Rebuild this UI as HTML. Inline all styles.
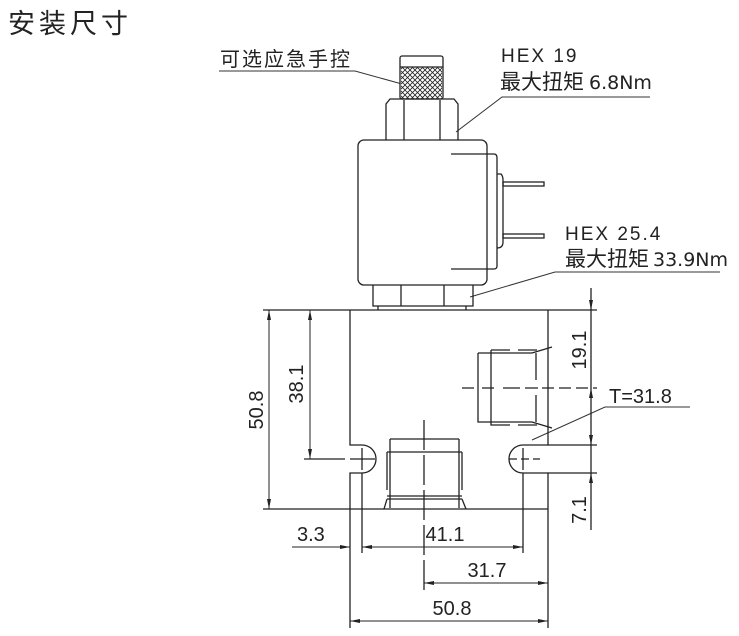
<!DOCTYPE html>
<html><head><meta charset="utf-8"><style>
html,body{margin:0;padding:0;background:#fff;width:739px;height:636px;overflow:hidden}
svg{display:block}
text{font-family:"Liberation Sans","Noto Sans CJK SC",sans-serif;fill:#222}
</style></head><body>
<svg width="739" height="636" viewBox="0 0 739 636" xmlns="http://www.w3.org/2000/svg">
<defs>
<marker id="a" viewBox="0 0 10 4" refX="10" refY="2" markerWidth="10" markerHeight="4" orient="auto-start-reverse" markerUnits="userSpaceOnUse"><path d="M0,0 L10,2 L0,4z" fill="#222"/></marker>
<pattern id="h" width="5" height="5" patternUnits="userSpaceOnUse"><path d="M0,0L5,5M5,0L0,5" stroke="#222" stroke-width="0.8"/></pattern>
</defs>
<text x="8" y="33" font-size="27" font-family="Noto Sans CJK SC,sans-serif" letter-spacing="4">安装尺寸</text>
<text x="220" y="66" font-size="20" font-family="Noto Sans CJK SC,sans-serif" letter-spacing="2">可选应急手控</text>
<text x="501" y="62" font-size="19" font-family="DejaVu Sans,sans-serif" letter-spacing="2">HEX  19</text>
<text x="500" y="89" font-family="Noto Sans CJK SC,sans-serif"><tspan font-size="21">最大扭矩</tspan><tspan font-size="19" font-family="DejaVu Sans,sans-serif" dx="5">6.8Nm</tspan></text>
<text x="565" y="240" font-size="19" font-family="DejaVu Sans,sans-serif" letter-spacing="2">HEX  25.4</text>
<text x="565" y="266" font-family="Noto Sans CJK SC,sans-serif"><tspan font-size="21">最大扭矩</tspan><tspan font-size="19" font-family="DejaVu Sans,sans-serif" dx="4">33.9Nm</tspan></text>
<g stroke="#333" stroke-width="1" fill="none">
<path d="M219,71H355L402,84"/>
<path d="M650,97H502L456,132"/>
<path d="M720,272H555L470,297"/>
<path d="M690,407H605L532,440"/>
</g>
<g stroke="#222" stroke-width="1.3" fill="none">
<rect x="400" y="56" width="43" height="43" rx="2" fill="#fff"/>
<rect x="401" y="67" width="41" height="32" fill="url(#h)" stroke="none"/>
<line x1="400" y1="67" x2="443" y2="67"/>
<path d="M386,140V104L390,99H454L458,104V140"/>
<line x1="404" y1="100" x2="404" y2="140"/><line x1="440" y1="100" x2="440" y2="140"/>
<rect x="358" y="140" width="129" height="145" rx="6" fill="#fff"/>
<path d="M451,154H494Q497,154 497,158V266Q497,269 494,269H451"/>
<path d="M497,174H501Q503,176 503,180V242Q503,248 497,248"/>
<rect x="503" y="182" width="41" height="4"/><rect x="503" y="234" width="41" height="4"/>
<path d="M373,285V306H473V285"/>
<line x1="401" y1="285" x2="401" y2="306"/><line x1="444" y1="285" x2="444" y2="306"/>
<path d="M378,306V310M466,306V310"/>
<path d="M263,310H597"/>
<path d="M350,310V445H362A14,14 0 0 1 362,473H350V509"/>
<path d="M548,310V445H523A14,14 0 0 0 523,473H548V509"/>
<path d="M548,445H597M548,473H597"/>
<path d="M263,509H548"/>
<path d="M478,353H532M478,353V422H532M491,350H510M518,350H537M491,350V425H510M518,425H537"/>
<path d="M536,353V380M536,395V422M532,353L552,347M532,422L552,428"/>
<path d="M390,439H459M390,439V508M459,439V508M387,452V490M462,452V490M387,452H462M387,496H462M387,499H462M387,499L384,509M462,499L466,509"/>
<path d="M462,388H475M482,388H496M503,388H519M526,388H548M508,388H597" stroke-dasharray="12,5"/>
<path d="M304,459H345M350,459H375" />
<path d="M509,459H540" stroke-dasharray="8,4"/>
<path d="M523,448V470"/><path d="M362,448V470"/>
<path d="M424,420V595" stroke-dasharray="30,5"/>
<path d="M362,473V553M523,473V553M350,509V628M548,509V628"/>
<path d="M591,288V530"/>
</g>
<g stroke="#222" stroke-width="1" fill="none">
<line x1="269" y1="310" x2="269" y2="509" marker-start="url(#a)" marker-end="url(#a)"/>
<line x1="310" y1="310" x2="310" y2="459" marker-start="url(#a)" marker-end="url(#a)"/>
<line x1="591" y1="290" x2="591" y2="310" marker-end="url(#a)"/>
<line x1="591" y1="410" x2="591" y2="388" marker-end="url(#a)"/>
<line x1="591" y1="425" x2="591" y2="445" marker-end="url(#a)"/>
<line x1="591" y1="495" x2="591" y2="473" marker-end="url(#a)"/>
<line x1="292" y1="547" x2="350" y2="547" marker-end="url(#a)"/>
<line x1="362" y1="547" x2="523" y2="547" marker-start="url(#a)" marker-end="url(#a)"/>
<line x1="424" y1="583" x2="548" y2="583" marker-start="url(#a)" marker-end="url(#a)"/>
<line x1="350" y1="621" x2="548" y2="621" marker-start="url(#a)" marker-end="url(#a)"/>
</g>
<g font-size="20">
<text x="297" y="541">3.3</text>
<text x="445" y="541" text-anchor="middle">41.1</text>
<text x="487" y="577" text-anchor="middle">31.7</text>
<text x="452" y="615" text-anchor="middle">50.8</text>
<text x="609" y="403">T=31.8</text>
<text transform="translate(263,410) rotate(-90)" text-anchor="middle">50.8</text>
<text transform="translate(303,384) rotate(-90)" text-anchor="middle">38.1</text>
<text transform="translate(586,350) rotate(-90)" text-anchor="middle">19.1</text>
<text transform="translate(586,510) rotate(-90)" text-anchor="middle">7.1</text>
</g>
</svg>
</body></html>
